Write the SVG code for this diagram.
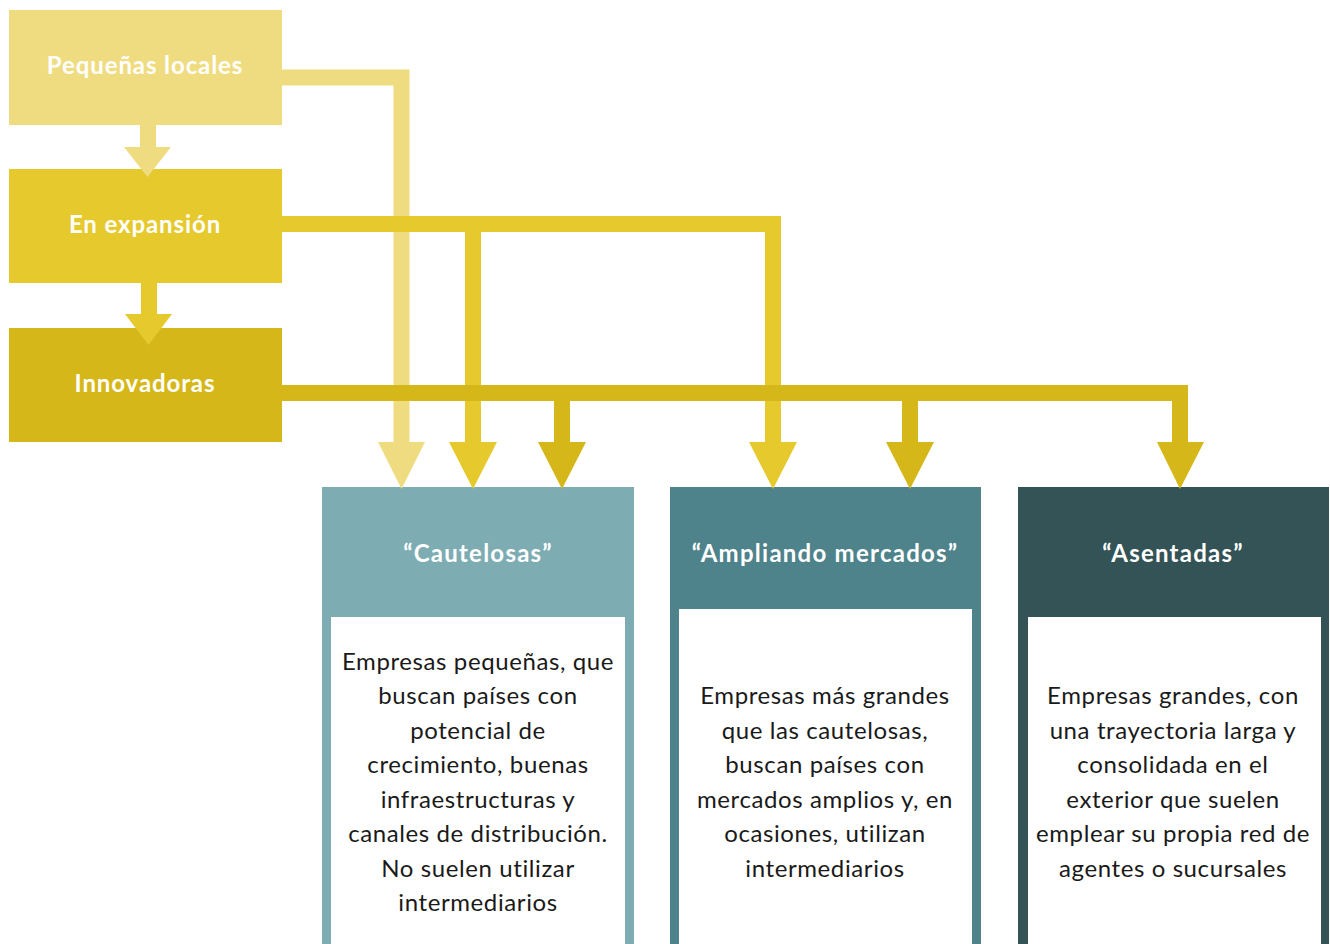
<svg xmlns="http://www.w3.org/2000/svg" width="1330" height="944" viewBox="0 0 1330 944">
<style>
.lbl{font-family:Lato,"Open Sans","Liberation Sans",sans-serif;font-weight:bold;font-size:24px;letter-spacing:0.9px;fill:#fff;text-anchor:middle}
.hdr{font-family:Lato,"Open Sans","Liberation Sans",sans-serif;font-weight:bold;font-size:24px;letter-spacing:1.25px;fill:#fff;text-anchor:middle}
.body{font-family:Lato,"Open Sans","Liberation Sans",sans-serif;font-size:24px;letter-spacing:0.6px;fill:#1a1a1a;text-anchor:middle}
.c1{stroke:#F0DC80;fill:none;stroke-width:16}
.c2{stroke:#E6C92C;fill:none;stroke-width:16}
.c3{stroke:#D6B719;fill:none;stroke-width:16}
</style>
<rect width="1330" height="944" fill="#fff"/>
<g id="pequenas"><rect x="9" y="10" width="273" height="115" fill="#F0DC80"/><text class="lbl" x="145" y="74">Pequeñas locales</text></g>
<g id="expansion"><rect x="9" y="169" width="273" height="114" fill="#E6C92C"/><text class="lbl" x="145" y="233">En expansión</text></g>
<g id="innovadoras"><rect x="9" y="328" width="273" height="114" fill="#D6B719"/><text class="lbl" x="145" y="392">Innovadoras</text></g>
<g id="cautelosas"><rect x="322" y="487" width="312" height="457" fill="#7DADB3"/><rect x="331" y="617" width="294" height="327" fill="#fff"/>
<text class="hdr" x="478" y="562">“Cautelosas”</text>
<text class="body" x="478"><tspan x="478" y="670">Empresas pequeñas, que</tspan><tspan x="478" y="704">buscan países con</tspan><tspan x="478" y="739">potencial de</tspan><tspan x="478" y="773">crecimiento, buenas</tspan><tspan x="478" y="808">infraestructuras y</tspan><tspan x="478" y="842">canales de distribución.</tspan><tspan x="478" y="877">No suelen utilizar</tspan><tspan x="478" y="911">intermediarios</tspan></text></g>
<g id="ampliando"><rect x="670" y="487" width="311" height="457" fill="#4F838B"/><rect x="679" y="609" width="293" height="335" fill="#fff"/>
<text class="hdr" x="825" y="562">“Ampliando mercados”</text>
<text class="body"><tspan x="825" y="704">Empresas más grandes</tspan><tspan x="825" y="739">que las cautelosas,</tspan><tspan x="825" y="773">buscan países con</tspan><tspan x="825" y="808">mercados amplios y, en</tspan><tspan x="825" y="842">ocasiones, utilizan</tspan><tspan x="825" y="877">intermediarios</tspan></text></g>
<g id="asentadas"><rect x="1018" y="487" width="311" height="457" fill="#335357"/><rect x="1028" y="617" width="293" height="327" fill="#fff"/>
<text class="hdr" x="1173" y="562">“Asentadas”</text>
<text class="body"><tspan x="1173" y="704">Empresas grandes, con</tspan><tspan x="1173" y="739">una trayectoria larga y</tspan><tspan x="1173" y="773">consolidada en el</tspan><tspan x="1173" y="808">exterior que suelen</tspan><tspan x="1173" y="842">emplear su propia red de</tspan><tspan x="1173" y="877">agentes o sucursales</tspan></text></g>
<g id="connectors">
<line class="c1" x1="148" y1="125" x2="148" y2="148"/><polygon fill="#F0DC80" points="124,147 171,147 147.5,177"/>
<line class="c2" x1="149" y1="283" x2="149" y2="315"/><polygon fill="#E6C92C" points="125,314 172,314 148.5,345"/>
<polyline class="c1" points="282,77.5 401.5,77.5 401.5,443"/><polygon fill="#F0DC80" points="378,442 425,442 401.5,489"/>
<polyline class="c2" points="282,224 773,224 773,443"/><line class="c2" x1="473" y1="224" x2="473" y2="443"/>
<polygon fill="#E6C92C" points="449,442 497,442 473,489"/><polygon fill="#E6C92C" points="749,442 797,442 773,489"/>
<polyline class="c3" points="282,393 1180,393 1180,443"/><line class="c3" x1="562" y1="393" x2="562" y2="443"/><line class="c3" x1="910" y1="393" x2="910" y2="443"/>
<polygon fill="#D6B719" points="538,442 586,442 562,489"/><polygon fill="#D6B719" points="886,442 934,442 910,489"/><polygon fill="#D6B719" points="1157,442 1204,442 1180,489"/>
</g>
</svg>
